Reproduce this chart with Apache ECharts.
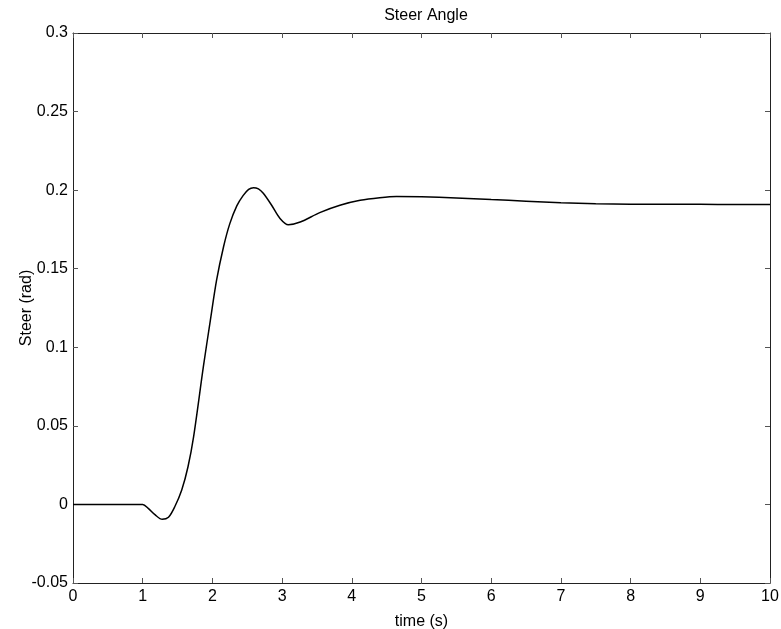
<!DOCTYPE html>
<html>
<head>
<meta charset="utf-8">
<script src="https://cdn.jsdelivr.net/npm/echarts@6/dist/echarts.min.js"></script>
<style>
  html, body { margin: 0; padding: 0; background: #fff; }
  #chart { width: 781px; height: 629px; }
</style>
</head>
<body>
<div id="chart"></div>
<script>
// Steer angle response, time in seconds and steer in radians
const timeS = [0, 0.5, 1.0, 1.08, 1.18, 1.28, 1.37, 1.46, 1.56, 1.65, 1.73, 1.87, 1.97, 2.06, 2.16, 2.25, 2.35, 2.44, 2.52, 2.59, 2.66, 2.73, 2.85, 2.97, 3.09, 3.26, 3.54, 3.83, 4.12, 4.40, 4.64, 5.0, 5.5, 6.0, 6.5, 7.0, 7.5, 8.0, 8.5, 9.0, 9.5, 10.0];
const steerRad = [0, 0, 0, -0.0025, -0.0067, -0.0095, -0.0082, -0.0015, 0.0092, 0.024, 0.043, 0.0875, 0.117, 0.1427, 0.164, 0.1787, 0.190, 0.1965, 0.2005, 0.2016, 0.2008, 0.198, 0.1904, 0.182, 0.178, 0.1797, 0.1857, 0.1904, 0.1935, 0.1952, 0.196, 0.1958, 0.195, 0.194, 0.193, 0.192, 0.1914, 0.1911, 0.191, 0.191, 0.1908, 0.1908];

const xTicks = [0, 10, 1];       // min, max, step
const yTicks = [-0.05, 0.3, 0.05];

const chart = echarts.init(document.getElementById('chart'));
const font = 'Liberation Sans, Arial, sans-serif';
const axisCol = '#222';

function xAxisDef(pos, labels) {
  return {
    type: 'value', position: pos,
    min: xTicks[0], max: xTicks[1], interval: xTicks[2],
    axisLine: { show: true, onZero: false, lineStyle: { color: axisCol, width: 1 } },
    axisTick: { show: true, inside: true, length: 5, lineStyle: { color: '#555' } },
    axisLabel: { show: labels, color: '#000', fontFamily: font, fontSize: 16, margin: 6 },
    splitLine: { show: false },
    name: labels ? 'time (s)' : '',
    nameLocation: 'middle', nameGap: 31, nameMoveOverlap: false,
    nameTextStyle: { color: '#000', fontFamily: font, fontSize: 16 }
  };
}
function yAxisDef(pos, labels) {
  return {
    type: 'value', position: pos,
    min: yTicks[0], max: yTicks[1], interval: yTicks[2],
    axisLine: { show: true, onZero: false, lineStyle: { color: axisCol, width: 1 } },
    axisTick: { show: true, inside: true, length: 5, lineStyle: { color: '#555' } },
    axisLabel: {
      show: labels, color: '#000', fontFamily: font, fontSize: 16, margin: 5,
      formatter: v => String(Math.round(v * 100) / 100)
    },
    splitLine: { show: false },
    name: labels ? 'Steer (rad)' : '',
    nameLocation: 'middle', nameGap: 38, nameRotate: 90, nameMoveOverlap: false,
    nameTextStyle: { color: '#000', fontFamily: font, fontSize: 16 }
  };
}

chart.setOption({
  backgroundColor: '#fff',
  animation: false,
  title: {
    text: 'Steer Angle', left: 421, top: 3, textAlign: 'center',
    textStyle: { color: '#000', fontFamily: font, fontSize: 16, fontWeight: 'normal' }
  },
  grid: { left: 73, right: 11, top: 33, bottom: 46, containLabel: false, outerBoundsMode: 'none' },
  xAxis: [xAxisDef('bottom', true), xAxisDef('top', false)],
  yAxis: [yAxisDef('left', true), yAxisDef('right', false)],
  series: [{
    type: 'line',
    data: timeS.map((t, i) => [t, steerRad[i]]),
    smooth: 0.3,
    showSymbol: false,
    lineStyle: { color: '#000', width: 1.5 }
  }]
});
</script>
</body>
</html>
